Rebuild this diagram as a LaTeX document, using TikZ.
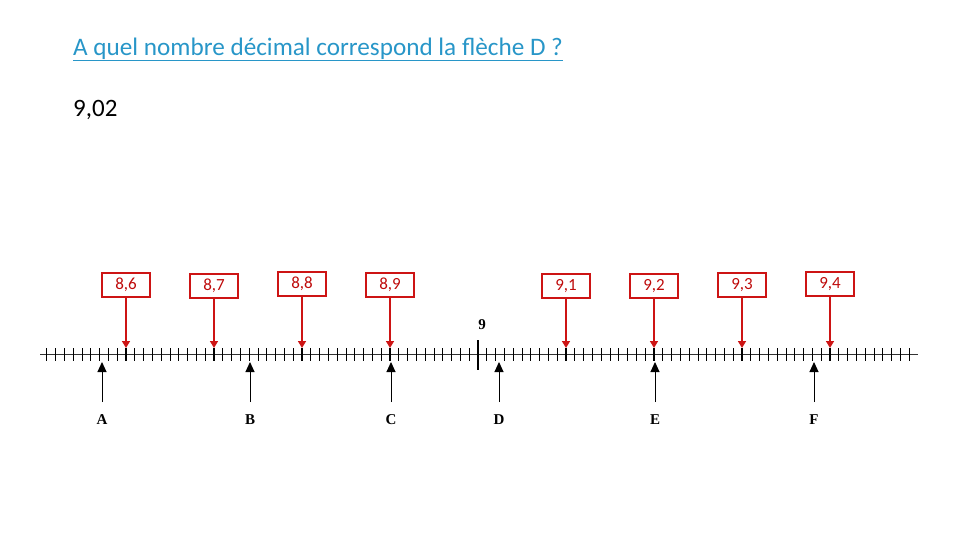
\documentclass[tikz,border=0pt]{standalone}
\usepackage{fontspec}
\setmainfont{Carlito}
\newfontfamily\labfont{Liberation Serif}
\usetikzlibrary{arrows.meta}
\definecolor{titleblue}{RGB}{40,150,200}
\definecolor{boxred}{RGB}{205,20,20}
\definecolor{boxtext}{RGB}{190,10,10}
\tikzset{
  valbox/.style={draw=boxred, line width=2.8pt, minimum width=48pt, minimum height=24pt, inner sep=0pt, text=boxtext, font=\fontsize{17}{19}\selectfont},
  redarrow/.style={draw=boxred, line width=1.6pt, -{Triangle[length=7pt,width=8pt]}},
  blackarrow/.style={draw=black, line width=1pt, -{Triangle[length=10pt,width=9pt]}},
  letter/.style={font=\labfont\bfseries\fontsize{15}{17}\selectfont, inner sep=0pt},
  minortick/.style={line width=0.8pt},
  majortick/.style={line width=2.4pt}
}
\begin{document}
\begin{tikzpicture}[x=1pt,y=-1pt]
\useasboundingbox (0,0) rectangle (960,540);
% title
\node[anchor=base west, inner sep=0pt, text=titleblue, font=\fontsize{25.2}{30}\selectfont] (title) at (73,56) {A quel nombre décimal correspond la flèche D ?};
\draw[titleblue, line width=1pt] ([yshift=-4.5pt]title.base west) -- ([yshift=-4.5pt]title.base east);
\node[anchor=base west, inner sep=0pt, font=\fontsize{25}{30}\selectfont] (answer) at (73,117) {9,02};
% number line
\coordinate (L) at (40,354);
\coordinate (R) at (918,354);
\draw[line width=0.8pt, black!80] (L) -- (R);
\foreach \i in {1,...,99}{
  \pgfmathsetmacro{\xx}{478+(\i-50)*8.8}
  \coordinate (t\i) at (\xx,354);
  \pgfmathtruncatemacro{\m}{mod(\i,10)}
  \ifnum\m=0
    \ifnum\i=50
      \draw[majortick] ([yshift=14pt]t\i) -- ([yshift=-16pt]t\i);
    \else
      \draw[majortick] ([yshift=6pt]t\i) -- ([yshift=-7pt]t\i);
    \fi
  \else
    \draw[minortick] ([yshift=6pt]t\i) -- ([yshift=-7pt]t\i);
  \fi
}
\node[letter] (nine) at (482,325) {9};
% red boxes
\foreach \i/\lab/\yy in {10/{8,6}/285, 20/{8,7}/286, 30/{8,8}/284, 40/{8,9}/285, 60/{9,1}/286, 70/{9,2}/286, 80/{9,3}/285, 90/{9,4}/284}{
  \path (t\i) ++(0,\yy-354) node[valbox] (box\i) {\lab};
  \draw[redarrow] (box\i.south) -- ([yshift=6pt]t\i);
}
% black arrows and letters
\foreach \xx/\name in {102/A, 250/B, 391/C, 499/D, 655/E, 814/F}{
  \coordinate (tip\name) at (\xx,362);
  \coordinate (tail\name) at (\xx,402);
  \draw[blackarrow] (tail\name) -- (tip\name);
  \node[letter] (lab\name) at (\xx,420) {\name};
}
\end{tikzpicture}
\end{document}
